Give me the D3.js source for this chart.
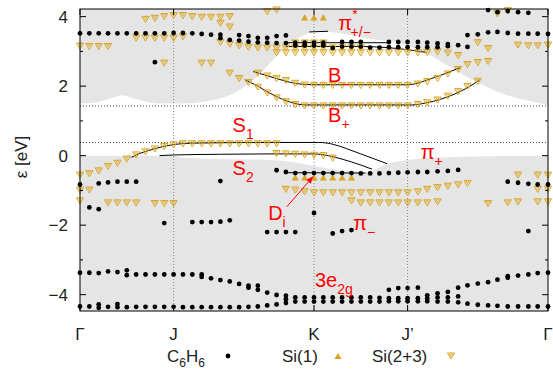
<!DOCTYPE html>
<html><head><meta charset="utf-8">
<script src="https://cdn.jsdelivr.net/npm/d3@7"></script>
<style>body{margin:0;background:#fff}svg{display:block}text{font-family:"Liberation Sans",Arial,sans-serif}</style>
</head><body><svg id="c" width="553" height="386"></svg>
<script>
const kTicks=[0,1,2.5,3.5,5];
const kLabels=["Γ","J","K","J’","Γ"];
const eTicks=[-4,-2,0,2,4];
const eMinor=[-3,-1,1,3];
const refLevels=[1.43,0.38];
const bulkTop=[[0,1.50],[0.15,1.52],[0.3,1.62],[0.45,1.74],[0.6,1.63],[0.75,1.53],[0.9,1.50],[1.1,1.50],[1.32,1.55],[1.5,1.65],[1.65,1.8],[1.78,2.03],[1.9,2.3],[2.03,2.66],[2.21,3.14],[2.39,3.47],[2.56,3.57],[2.7,3.55],[3.06,3.38],[3.42,3.23],[3.7,2.95],[3.95,2.56],[4.13,2.27],[4.34,1.98],[4.56,1.74],[4.84,1.55],[5,1.46]];
const bulkBot=[[0,0.0],[1.0,0.0],[1.1,-0.06],[1.6,-0.1],[2.0,-0.12],[2.3,-0.2],[2.6,-0.35],[2.9,-0.45],[3.07,-0.47],[3.29,-0.22],[3.49,-0.13],[3.7,-0.07],[4.09,-0.03],[5,0.0]];
const c6h6=[
[0,3.52],[0.1,3.52],[0.2,3.52],[0.3,3.52],[0.4,3.52],[0.5,3.52],[0.6,3.52],[0.7,3.52],[0.8,3.52],[0.9,3.52],[1,3.53],[1.1,3.53],[1.2,3.52],[1.3,3.5],[1.4,3.48],
[0.8,2.69],
[1.5,3.48],[1.5,3.38],[1.6,3.33],[1.7,3.47],[1.7,3.31],[1.8,3.44],[1.8,3.28],[1.9,3.39],[1.9,3.26],[2,3.39],[2,3.25],[2.1,3.44],[2.1,3.24],[2.2,3.46],[2.2,3.24],
[2.3,3.25],[2.3,3.17],[2.4,3.25],[2.4,3.17],[2.5,3.25],[2.5,3.17],[2.6,3.25],[2.6,3.17],[2.7,3.1],[2.8,3.27],[2.8,3.14],[2.9,3.27],[2.9,3.14],[3,3.27],[3,3.14],
[3.1,3.11],[3.2,3.11],[3.3,3.27],[3.3,3.12],[3.4,3.27],[3.4,3.12],[3.5,3.27],[3.5,3.12],
[3.61,3.27],[3.61,3.12],[3.71,3.25],[3.71,3.12],[3.82,3.23],[3.82,3.12],[3.93,3.21],[3.93,3.15],[4.04,3.18],[4.14,3.47],[4.14,3.13],[4.25,3.49],[4.36,3.55],[4.46,3.56],[4.57,3.53],[4.68,3.51],[4.79,3.51],[4.89,3.51],[5,3.5],
[4.36,4.19],[4.46,4.13],[4.57,4.16],[4.68,4.13],[4.79,4.11],
[0,-0.83],[0.2,-0.8],[0.3,-0.77],[0.4,-0.75],[0.5,-0.75],[0.6,-0.75],[0.1,-1.49],[0.2,-1.54],[0.9,-1.94],
[1.5,-0.73],[1.2,-1.91],[1.3,-1.91],[1.4,-1.91],[1.5,-1.9],[1.6,-1.86],[2.5,-1.65],
[2,-2.2],[2.1,-2.2],[2.2,-2.2],[2.3,-2.2],[2.7,-2.24],[2.8,-2.17],[2.9,-2.14],[4.79,-2.17],
[2.1,-0.42],[2.2,-0.47],[2.3,-0.5],[2.4,-0.5],[2.5,-0.5],[2.6,-0.5],[2.7,-0.5],[2.8,-0.5],[2.9,-0.5],[3,-0.51],[3.1,-0.51],[3.2,-0.51],[3.3,-0.5],[3.4,-0.49],[3.5,-0.48],[3.61,-0.47],[3.71,-0.47],[3.82,-0.45],[3.93,-0.44],[4.04,-0.41],
[4.57,-0.75],[4.68,-0.78],[4.79,-0.81],[4.89,-0.83],[5,-0.83],
[0,-3.37],[0.1,-3.37],[0.2,-3.38],[0.3,-3.33],[0.4,-3.35],[0.5,-3.3],[0.5,-3.44],[0.6,-3.42],[0.7,-3.42],[0.8,-3.42],[0.9,-3.42],[1,-3.42],[1.1,-3.42],[1.2,-3.42],[1.3,-3.42],[1.3,-3.49],[1.4,-3.53],[1.5,-3.58],[1.6,-3.62],[1.7,-3.69],[1.8,-3.74],[1.8,-3.8],[1.9,-3.74],[1.9,-3.86],[2,-3.94],[2.1,-4.01],[2.2,-4.03],[2.2,-4.13],
[2.3,-4.08],[2.4,-4.08],[2.5,-4.08],[2.6,-4.08],[2.7,-4.08],[2.8,-4.08],[2.9,-4.08],[3,-4.08],[3.1,-4.08],[3.2,-4.09],[3.3,-4.1],[3.4,-4.1],[3.5,-4.1],[3.61,-4.1],[3.71,-4.11],[3.82,-4.08],[3.93,-4.08],[4.04,-4.05],
[2.3,-4.2],[2.4,-4.2],[2.5,-4.2],[2.6,-4.2],[2.7,-4.2],[2.8,-4.2],[2.9,-4.2],[3,-4.2],[3.1,-4.2],[3.2,-4.2],[3.3,-4.19],[3.4,-4.19],[3.5,-4.19],[3.61,-4.19],[3.71,-4.19],[3.82,-4.2],[3.93,-4.2],[4.04,-4.22],
[3.3,-3.86],[3.4,-3.81],[3.5,-3.81],[3.61,-3.8],[3.71,-4.02],[3.82,-3.96],[3.93,-3.92],[4.04,-3.8],[4.14,-3.73],[4.25,-3.68],[4.36,-3.64],[4.46,-3.57],[4.57,-3.47],[4.57,-3.51],[4.68,-3.45],[4.79,-3.42],[4.89,-3.38],[5,-3.37],
[0,-4.34],[0.1,-4.34],[0.2,-4.28],[0.2,-4.38],[0.3,-4.35],[0.4,-4.27],[0.4,-4.36],[0.5,-4.36],[0.6,-4.35],[0.7,-4.35],[0.8,-4.35],[0.9,-4.35],[1,-4.35],[1.1,-4.36],[1.2,-4.36],[1.3,-4.36],[1.4,-4.36],[1.5,-4.36],[1.6,-4.36],[1.7,-4.36],[1.8,-4.35],[1.9,-4.34],[2,-4.31],[2.1,-4.28],[2.2,-4.24],
[4.14,-4.26],[4.25,-4.29],[4.36,-4.31],[4.46,-4.32],[4.57,-4.34],[4.68,-4.34],[4.79,-4.34],[4.89,-4.34],[5,-4.34]
];
const si1=[[2.3,-0.63],[2.4,-0.63],[2.5,-0.63],[2.6,-0.63],[2.7,-0.63],[2.8,-0.63],[2.9,-0.63],[2.4,3.98],[2.5,3.98],[2.6,3.98]];
const si23=[
[0.7,3.92],[0.8,3.95],[0.9,4.0],[1,4.03],[1.1,4.03],[1.2,4.0],[1.3,3.98],[1.4,3.98],[1.5,3.98],[1.6,4.0],[1.5,3.81],[1.6,3.7],[2,4.14],[2.1,4.19],
[0,3.15],[0.1,3.14],[0.2,3.14],[0.3,3.14],
[0.6,3.38],[0.7,3.38],[0.8,3.38],[0.9,3.38],[1,3.38],[1.1,3.42],
[0.9,2.66],[1.3,2.66],[1.4,2.66],[1.6,2.37],[1.7,2.22],
[1.5,3.26],[1.6,3.21],[1.7,3.16],[1.8,3.12],[1.9,3.1],[2,3.1],[2.1,3.1],[2.2,3.1],[2.3,3.1],[2.4,3.1],[2.5,3.1],[2.6,3.1],[2.7,3.1],[2.8,3.1],[2.9,3.1],[3,3.1],
[2.1,2.96],[2.2,2.96],[2.3,2.96],[2.4,2.96],[2.5,2.96],[2.6,2.96],[2.7,2.96],[2.8,2.96],[2.9,2.96],[3,2.96],[3.1,2.96],[3.2,2.96],[3.3,2.96],[3.4,2.96],[3.5,2.96],[3.61,2.96],[3.71,2.97],[3.82,2.99],[3.93,2.95],[4.04,2.88],
[2.3,3.24],[2.4,3.24],[2.5,3.24],[2.6,3.24],
[4.25,3.25],[4.36,3.08],[4.68,3.18],[4.79,3.16],[4.89,3.16],[5,3.18],[4.46,4.08],[4.57,4.17],
[1.9,2.37],[2,2.29],[2.1,2.22],[2.2,2.16],[2.3,2.08],[2.4,2.03],[2.5,2.02],[2.6,2.02],[2.7,2.02],[2.8,2.02],[2.9,2.02],[3,2.02],[3.1,2.02],[3.2,2.02],[3.3,2.02],[3.4,2.02],[3.5,2.02],[3.61,2.06],[3.71,2.13],[3.82,2.22],[3.93,2.35],[4.04,2.48],[4.14,2.62],[4.25,2.68],[4.36,2.71],
[1.8,2.1],[1.9,1.97],[2,1.8],[2.1,1.66],[2.2,1.55],[2.3,1.47],[2.4,1.43],[2.5,1.43],[2.6,1.43],[2.7,1.43],[2.8,1.43],[2.9,1.43],[3,1.43],[3.1,1.43],[3.2,1.43],[3.3,1.43],[3.4,1.43],[3.5,1.43],[3.61,1.47],[3.71,1.52],[3.82,1.6],[3.93,1.71],[4.04,1.84],[4.14,1.99],[4.25,2.14],
[0,-0.56],[0.1,-0.52],[0.2,-0.44],[0.3,-0.31],[0.4,-0.22],[0.5,-0.1],[0.6,0.02],[0.7,0.11],[0.8,0.19],[0.9,0.26],[1,0.31],[1.1,0.34],[1.2,0.34],[1.3,0.34],[1.4,0.34],[1.5,0.34],[1.6,0.34],[1.7,0.34],[1.8,0.34],[1.9,0.34],[2,0.34],[2.1,0.34],
[2.1,0.06],[2.2,0.05],[2.3,0.04],[2.4,0.02],[2.5,0.01],[2.6,0.0],[2.7,-0.07],
[0,-0.99],[0.1,-0.99],[0,-1.3],[0.3,-1.36],[0.4,-1.36],[0.5,-1.36],[0.6,-1.36],[0.8,-1.38],[0.9,-1.38],[1,-1.38],
[2.2,-0.97],[2.3,-0.99],[2.4,-1.04],[2.5,-1.07],[2.6,-1.07],[2.7,-1.07],[2.8,-1.07],[2.9,-1.07],[3,-1.07],[3.1,-1.07],[3.2,-1.07],[3.3,-1.07],[3.4,-1.07],[3.5,-1.07],[3.61,-1.04],[3.71,-0.97],[3.82,-0.92],[3.93,-0.88],[4.04,-0.84],[4.14,-0.8],
[2.9,-1.3],[3,-1.36],[3.1,-1.36],[3.2,-1.36],[3.3,-1.36],[3.4,-1.36],[3.5,-1.36],[3.61,-1.36],[3.71,-1.36],[3.82,-1.33],
[4.36,-1.38],[4.57,-1.36],[4.68,-1.33],[4.89,-1.33],[5,-1.33],
[4.68,-0.56],[4.89,-0.56],[5,-0.56],[4.89,-0.97],[5,-0.97]
];
const lineS1=[[0.55,-0.05],[0.6,0.02],[0.7,0.12],[0.8,0.2],[0.9,0.27],[1,0.32],[1.2,0.36],[2,0.38],[2.55,0.38],[2.7,0.33],[2.85,0.2],[3,0.05],[3.15,-0.1],[3.28,-0.23]];
const lineS2=[[0.85,0.0],[1,0.02],[1.5,0.04],[2,0.05],[2.5,0.05],[2.65,0.0],[2.8,-0.1],[3,-0.27],[3.12,-0.39]];
const lineBm=[[1.85,2.42],[2,2.3],[2.1,2.22],[2.2,2.14],[2.3,2.08],[2.4,2.05],[2.5,2.04],[3.5,2.04],[3.6,2.08],[3.7,2.17],[3.8,2.26],[3.9,2.36],[4.06,2.53]];
const lineBp=[[1.76,2.18],[1.9,2.0],[2,1.84],[2.1,1.7],[2.2,1.58],[2.3,1.5],[2.4,1.46],[3.55,1.46],[3.7,1.52],[3.85,1.62],[4,1.77],[4.15,1.97],[4.27,2.18]];
const lineK1=[[2.2,3.25],[3.3,3.25]];
const lineK2=[[2.2,3.14],[3,3.14],[3.4,3.08],[3.7,2.97]];
const linePi=[[2.45,3.56],[2.65,3.58]];
const lineD=[[2.2,-0.49],[3.05,-0.5]];

const W=553,H=386,L=80,R=548,T=9,B=311;
const x=d3.scaleLinear().domain([0,5]).range([L,R]);
const y=d3.scaleLinear().domain([-4.47,4.22]).range([B,T]);
const svg=d3.select("#c");
const gold="#daa520";
// bulk regions
svg.append("path").datum(bulkTop).attr("fill","#e5e5e5")
 .attr("d",d3.area().x(d=>x(d[0])).y0(y(4.22)).y1(d=>y(d[1])).curve(d3.curveMonotoneX));
svg.append("path").datum(bulkBot).attr("fill","#e5e5e5")
 .attr("d",d3.area().x(d=>x(d[0])).y0(y(-4.47)).y1(d=>y(d[1])).curve(d3.curveMonotoneX));
// ref lines
svg.selectAll(".hl").data(refLevels).enter().append("line")
 .attr("x1",L).attr("x2",R).attr("y1",d=>y(d)).attr("y2",d=>y(d))
 .attr("stroke","#444").attr("stroke-width",1).attr("stroke-dasharray","1,2");
svg.selectAll(".vl").data(kTicks.slice(1,4)).enter().append("line")
 .attr("x1",d=>x(d)).attr("x2",d=>x(d)).attr("y1",T).attr("y2",B)
 .attr("stroke","#888").attr("stroke-width",1).attr("stroke-dasharray","1,2");
// model lines
const ln=d3.line().x(d=>x(d[0])).y(d=>y(d[1])).curve(d3.curveMonotoneX);
[lineS1,lineS2,lineBm,lineBp,lineK1,lineK2,linePi,lineD].forEach(p=>{
 svg.append("path").datum(p).attr("d",ln).attr("fill","none").attr("stroke","#000").attr("stroke-width",1);
});
// Si(2+3)
const tdown=(s)=>`M${-s},${-s*0.85}L${s},${-s*0.85}L0,${s*0.85}Z`;
const g23=svg.append("g");
g23.selectAll("path.o").data(si23).enter().append("path")
 .attr("transform",d=>`translate(${x(d[0])},${y(d[1])})`).attr("d",tdown(3.6))
 .attr("fill","none").attr("stroke",gold).attr("stroke-width",1);
g23.selectAll("path.i").data(si23).enter().append("path")
 .attr("transform",d=>`translate(${x(d[0])},${y(d[1])-0.8})`).attr("d",tdown(1.5))
 .attr("fill","none").attr("stroke",gold).attr("stroke-width",0.8).attr("opacity",0.8);
// Si(1)
const tup=(s)=>`M${-s},${s*0.85}L${s},${s*0.85}L0,${-s*0.85}Z`;
svg.selectAll("path.s1").data(si1).enter().append("path")
 .attr("transform",d=>`translate(${x(d[0])},${y(d[1])})`).attr("d",tup(3.6)).attr("fill",gold);
// C6H6
svg.selectAll("circle.c").data(c6h6).enter().append("circle")
 .attr("cx",d=>x(d[0])).attr("cy",d=>y(d[1])).attr("r",2.4).attr("fill","#000");
// frame and ticks
svg.append("rect").attr("x",L).attr("y",T).attr("width",R-L).attr("height",B-T).attr("fill","none").attr("stroke","#000").attr("stroke-width",1);
eTicks.forEach(t=>{
 svg.append("line").attr("x1",L).attr("x2",L+6).attr("y1",y(t)).attr("y2",y(t)).attr("stroke","#000");
 svg.append("line").attr("x1",R).attr("x2",R-6).attr("y1",y(t)).attr("y2",y(t)).attr("stroke","#000");
 svg.append("text").attr("x",L-12).attr("y",y(t)+6).attr("text-anchor","end").attr("font-size",17).attr("fill","#222").text(t<0?"−"+(-t):t);
});
eMinor.forEach(t=>{
 svg.append("line").attr("x1",L).attr("x2",L+3).attr("y1",y(t)).attr("y2",y(t)).attr("stroke","#000");
 svg.append("line").attr("x1",R).attr("x2",R-3).attr("y1",y(t)).attr("y2",y(t)).attr("stroke","#000");
});
kTicks.forEach((t,i)=>{
 svg.append("line").attr("x1",x(t)).attr("x2",x(t)).attr("y1",B).attr("y2",B-6).attr("stroke","#000");
 svg.append("line").attr("x1",x(t)).attr("x2",x(t)).attr("y1",T).attr("y2",T+6).attr("stroke","#000");
 svg.append("text").attr("x",x(t)).attr("y",340).attr("text-anchor","middle").attr("font-size",17).attr("fill","#222").text(kLabels[i]);
});
// y label
svg.append("text").attr("transform","translate(27,157) rotate(-90)").attr("text-anchor","middle").attr("font-size",17).attr("fill","#222").text("ε [eV]");
// red labels
function lab(k,e,main,sub,sup,fs){
 const t=svg.append("text").attr("x",x(k)).attr("y",y(e)).attr("font-size",fs||20).attr("fill","#f00");
 t.append("tspan").text(main);
 if(sup){t.append("tspan").attr("font-size",14).attr("dy",-11).text(sup);}
 if(sub){const s=t.append("tspan").attr("font-size",14).attr("dy",sup?18:7).text(sub); if(sup) s.attr("dx",-7);}
}
lab(2.76,3.62,"π","+/−","*");
lab(2.65,2.12,"B","−");
lab(2.65,0.97,"B","+");
lab(1.63,0.68,"S","1");
lab(1.63,-0.56,"S","2");
lab(3.64,-0.1,"π","+");
lab(2.92,-2.14,"π","−");
lab(2.01,-1.85,"D","i");
lab(2.51,-3.78,"3e","2g");
// arrow
const ax1=x(2.21),ay1=y(-1.47),ax2=x(2.49),ay2=y(-0.6);
svg.append("line").attr("x1",ax1).attr("y1",ay1).attr("x2",ax2).attr("y2",ay2).attr("stroke","#f00").attr("stroke-width",1);
const ang=Math.atan2(ay2-ay1,ax2-ax1);
const hl=7,hw=3;
svg.append("path").attr("fill","#f00").attr("d",
 `M${ax2},${ay2}L${ax2-hl*Math.cos(ang)+hw*Math.sin(ang)},${ay2-hl*Math.sin(ang)-hw*Math.cos(ang)}L${ax2-hl*Math.cos(ang)-hw*Math.sin(ang)},${ay2-hl*Math.sin(ang)+hw*Math.cos(ang)}Z`);
// legend
const lg=svg.append("g").attr("font-size",17).attr("fill","#222");
const t1=lg.append("text").attr("x",167).attr("y",362);
t1.append("tspan").text("C");t1.append("tspan").attr("font-size",12).attr("dy",5).text("6");
t1.append("tspan").attr("dy",-5).text("H");t1.append("tspan").attr("font-size",12).attr("dy",5).text("6");
lg.append("circle").attr("cx",228).attr("cy",356).attr("r",2.4).attr("fill","#000");
lg.append("text").attr("x",282).attr("y",362).text("Si(1)");
lg.append("path").attr("transform","translate(338,356)").attr("d",tup(3.6)).attr("fill",gold);
lg.append("text").attr("x",372).attr("y",362).text("Si(2+3)");
lg.append("path").attr("transform","translate(451,356)").attr("d",tdown(3.6)).attr("fill","none").attr("stroke",gold);
lg.append("path").attr("transform","translate(451,355.2)").attr("d",tdown(1.5)).attr("fill","none").attr("stroke",gold).attr("stroke-width",0.8);
</script></body></html>
